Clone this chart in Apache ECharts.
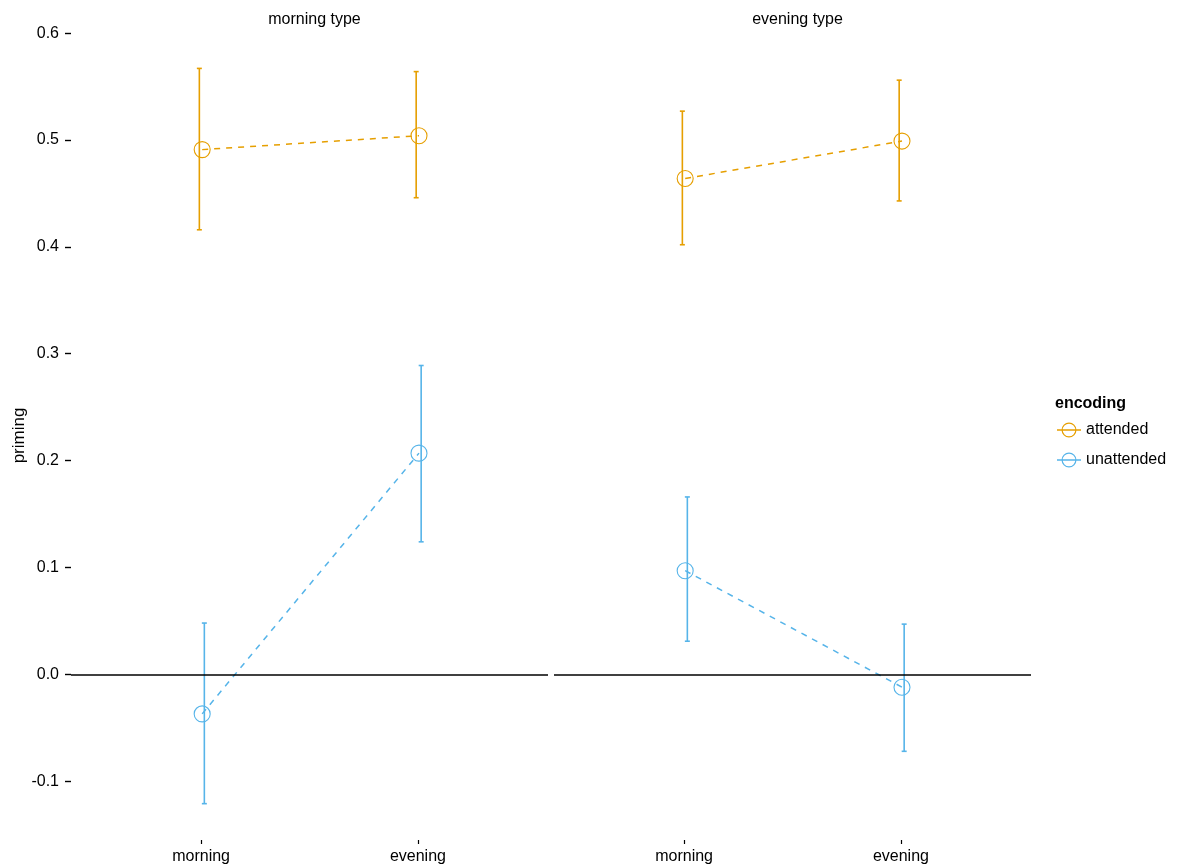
<!DOCTYPE html>
<html>
<head>
<meta charset="utf-8">
<script src="https://cdn.jsdelivr.net/npm/echarts@6/dist/echarts.min.js"></script>
<style>
html,body{margin:0;padding:0;background:#fff;}
#chart{width:1180px;height:868px;}
</style>
</head>
<body>
<div id="chart"></div>
<script>
// ---- data ----
const categories = ['morning', 'evening'];
const facets = ['morning type', 'evening type'];
const encodings = ['attended', 'unattended'];
const yTicks = [-0.1, 0, 0.1, 0.2, 0.3, 0.4, 0.5, 0.6];

// morning type facet
const mtAttendedMean = [0.491, 0.504];
const mtAttendedLow  = [0.416, 0.446];
const mtAttendedHigh = [0.567, 0.564];
const mtUnattendedMean = [-0.037, 0.207];
const mtUnattendedLow  = [-0.121, 0.124];
const mtUnattendedHigh = [0.048, 0.289];

// evening type facet
const etAttendedMean = [0.464, 0.499];
const etAttendedLow  = [0.402, 0.443];
const etAttendedHigh = [0.527, 0.556];
const etUnattendedMean = [0.097, -0.012];
const etUnattendedLow  = [0.031, -0.072];
const etUnattendedHigh = [0.166, 0.047];

const colors = { attended: '#E69F00', unattended: '#56B4E9' };
const pointDodge = { attended: 0.005, unattended: 0.005 };
const barDodge = { attended: -0.008, unattended: 0.015 };

const facetData = [
  { attended: [mtAttendedMean, mtAttendedLow, mtAttendedHigh],
    unattended: [mtUnattendedMean, mtUnattendedLow, mtUnattendedHigh] },
  { attended: [etAttendedMean, etAttendedLow, etAttendedHigh],
    unattended: [etUnattendedMean, etUnattendedLow, etUnattendedHigh] }
];

const FONT = 'Liberation Sans, Arial, Helvetica, sans-serif';
const gridLefts = [71, 554];
const gridWidth = 477;

const grids = gridLefts.map(l => ({ left: l, top: 31, width: gridWidth, height: 809 }));

const xAxes = gridLefts.map((l, i) => ({
  type: 'value', gridIndex: i, min: -0.6, max: 1.6, position: 'bottom',
  axisLine: { show: false, onZero: false },
  splitLine: { show: false },
  axisTick: { show: true, length: 4, customValues: [0, 1], lineStyle: { color: '#000', width: 1.2 } },
  axisLabel: { show: true, customValues: [0, 1], margin: 9, color: '#000', fontSize: 16, fontFamily: FONT,
    formatter: v => categories[Math.round(v)] }
}));

const yAxes = gridLefts.map((l, i) => ({
  type: 'value', gridIndex: i, min: -0.155, max: 0.602, position: 'left',
  name: i === 0 ? 'priming' : '', nameLocation: 'middle', nameGap: 43, nameRotate: 90,
  nameTextStyle: { color: '#000', fontSize: 17, fontFamily: FONT },
  axisLine: { show: false, onZero: false },
  splitLine: { show: false },
  axisTick: { show: i === 0, length: 6, customValues: yTicks, lineStyle: { color: '#000', width: 1.4 } },
  axisLabel: { show: i === 0, customValues: yTicks, margin: 12, color: '#000', fontSize: 16, fontFamily: FONT,
    formatter: v => v.toFixed(1) }
}));

// legend glyph: horizontal line through an open circle
const legendIcon = 'path://M0,7.3 L24,7.3 L24,8.7 L0,8.7 Z M4.5,8 A7.5,7.5 0 1,1 19.5,8 A7.5,7.5 0 1,1 4.5,8 Z M5.7,8 A6.3,6.3 0 1,0 18.3,8 A6.3,6.3 0 1,0 5.7,8 Z';

const series = [];
facetData.forEach((fd, fi) => {
  encodings.forEach((enc, ei) => {
    const [mean, lo, hi] = fd[enc];
    const col = colors[enc];
    // error bars
    series.push({
      type: 'custom', name: enc, xAxisIndex: fi, yAxisIndex: fi, z: 2,
      data: categories.map((c, ci) => [ci + barDodge[enc], lo[ci], hi[ci]]),
      renderItem: (params, api) => {
        const x = api.value(0);
        const p1 = api.coord([x, api.value(1)]);
        const p2 = api.coord([x, api.value(2)]);
        const cw = 2.5;
        const st = { stroke: col, lineWidth: 1.6 };
        return { type: 'group', children: [
          { type: 'line', shape: { x1: p1[0], y1: p1[1], x2: p2[0], y2: p2[1] }, style: st },
          { type: 'line', shape: { x1: p1[0] - cw, y1: p1[1], x2: p1[0] + cw, y2: p1[1] }, style: st },
          { type: 'line', shape: { x1: p2[0] - cw, y1: p2[1], x2: p2[0] + cw, y2: p2[1] }, style: st }
        ]};
      },
      silent: true
    });
    // dashed line + open circles
    const lineSeries = {
      type: 'line', name: enc, xAxisIndex: fi, yAxisIndex: fi, z: 3,
      data: categories.map((c, ci) => [ci + pointDodge[enc], mean[ci]]),
      symbol: 'circle', symbolSize: 16,
      itemStyle: { color: 'rgba(255,255,255,0)', borderColor: col, borderWidth: 1.1 },
      lineStyle: { color: col, width: 1.5, type: [6, 6] },
      animation: false, silent: true
    };
    if (ei === 0) {
      lineSeries.markLine = {
        silent: true, symbol: 'none', label: { show: false },
        lineStyle: { color: '#000', width: 1.5, type: 'solid' },
        data: [{ yAxis: 0 }], animation: false
      };
    }
    series.push(lineSeries);
  });
});

const option = {
  backgroundColor: '#fff',
  animation: false,
  color: [colors.attended, colors.unattended],
  title: [
    { text: facets[0], left: gridLefts[0] + gridWidth / 2, top: 7, textAlign: 'center',
      textStyle: { fontSize: 16, fontWeight: 'normal', color: '#000', fontFamily: FONT } },
    { text: facets[1], left: gridLefts[1] + gridWidth / 2, top: 7, textAlign: 'center',
      textStyle: { fontSize: 16, fontWeight: 'normal', color: '#000', fontFamily: FONT } },
    { text: 'encoding', left: 1050, top: 391,
      textStyle: { fontSize: 16, fontWeight: 'bold', color: '#000', fontFamily: FONT } }
  ],
  legend: {
    orient: 'vertical', left: 1057, top: 422, itemGap: 14, padding: 0,
    itemWidth: 24, itemHeight: 15,
    data: encodings.map(e => ({ name: e, icon: legendIcon, itemStyle: { color: colors[e] } })),
    textStyle: { fontSize: 16, color: '#000', fontFamily: FONT },
    selectedMode: false
  },
  grid: grids,
  xAxis: xAxes,
  yAxis: yAxes,
  series: series
};

const chart = echarts.init(document.getElementById('chart'), null, { renderer: 'canvas' });
chart.setOption(option);
</script>
</body>
</html>
